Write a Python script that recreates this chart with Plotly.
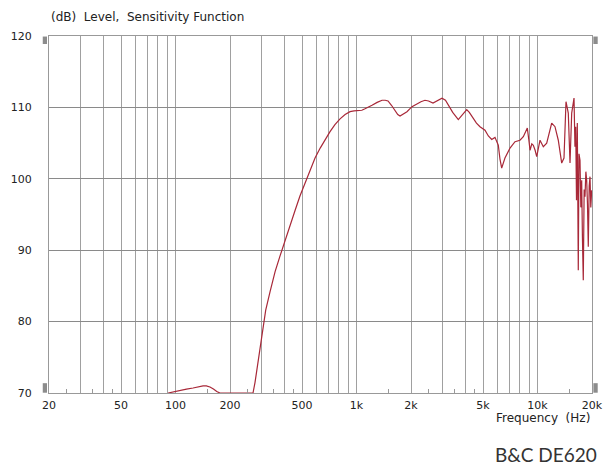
import plotly.graph_objects as go

# ---- data ----
freq_hz = [91, 100, 106, 115, 125, 135, 142, 148, 155, 162, 169, 176, 200, 230, 268,
           275, 281, 290, 300, 315, 333, 355, 378, 400, 429, 458, 487, 510, 533, 560,
           590, 630, 670, 714, 760, 811, 865, 921, 970, 1018, 1070, 1114, 1160, 1218,
           1300, 1384, 1440, 1493, 1560, 1632, 1690, 1739, 1800, 1900, 2025, 2159,
           2270, 2388, 2500, 2646, 2800, 2966, 3100, 3215, 3400, 3650, 3850, 4064,
           4200, 4418, 4600, 4810, 5128, 5350, 5585, 5821, 6072, 6200, 6340, 6609,
           7048, 7511, 8000, 8348, 8783, 8950, 9093, 9300, 9482, 9700, 9900, 10322,
           10766, 11240, 11976, 12490, 13026, 13602, 14006, 14368, 14792, 15120,
           15448, 15910, 16100, 16256, 16420, 16590, 16800, 16950, 17168, 17350,
           17540, 17700, 17900, 18100, 18292, 18500, 18692, 18880, 19076, 19300,
           19498, 19700, 19918]
level_db = [70.0, 70.25, 70.4, 70.55, 70.7, 70.9, 71.0, 71.0, 70.85, 70.55, 70.2, 70.0,
            70.0, 70.0, 70.0,
            71.5, 73.2, 75.8, 78.4, 81.6, 84.2, 87.0, 89.2, 91.0, 93.4, 95.6, 97.6,
            98.9, 100.0, 101.3, 102.9, 104.3, 105.5, 106.6, 107.6, 108.4, 109.0,
            109.4, 109.5, 109.5, 109.6, 109.8, 110.0, 110.3, 110.7, 111.0, 111.0,
            110.9, 110.3, 109.6, 109.0, 108.8, 109.0, 109.4, 110.1, 110.5, 110.8,
            111.0, 110.9, 110.6, 110.9, 111.3, 111.0, 110.3, 109.3, 108.3, 109.0,
            109.7, 109.3, 108.5, 107.8, 107.3, 106.8, 106.0, 105.5, 105.8, 104.7,
            102.8, 101.5, 102.9, 104.3, 105.2, 105.4, 105.9, 107.1, 105.5, 104.0,
            104.9, 104.7, 104.0, 103.1, 105.4, 104.5, 105.0, 107.8, 107.3, 105.4,
            102.2, 102.9, 110.8, 109.2, 102.2, 109.2, 111.3, 104.5, 107.3, 97.0,
            107.8, 87.2, 103.5, 102.6, 96.0, 99.8, 92.0, 85.8, 98.5, 97.5, 101.0,
            99.8, 96.5, 90.5, 99.0, 100.3, 96.0, 98.4]

grid_freqs = [20, 30, 40, 50, 60, 70, 80, 90,
              100, 200, 300, 400, 500, 600, 700, 800, 900,
              1000, 2000, 3000, 4000, 5000, 6000, 7000, 8000, 9000,
              10000, 20000]
grid_labels = {20: "20", 50: "50", 100: "100", 200: "200", 500: "500",
               1000: "1k", 2000: "2k", 5000: "5k", 10000: "10k", 20000: "20k"}
minor_freqs = [25, 35, 45, 150, 250, 350, 450, 1500, 2500, 3500, 4500, 15000]
y_ticks = [70, 80, 90, 100, 110, 120]

title_text = "(dB)  Level,  Sensitivity Function"
xlabel_text = "Frequency  (Hz)"
model_text = "B&C DE620"

fig = go.Figure()
fig.add_trace(go.Scatter(
    x=freq_hz, y=level_db, mode="lines",
    line=dict(color="#a82838", width=1.2),
    hoverinfo="skip", showlegend=False,
))

# the page body adds an 8px offset, so the figure is sized to fill the rest
font_main = "DejaVu Sans"
fig.update_layout(
    width=606, height=457,
    margin=dict(l=41, r=22, t=28, b=72, autoexpand=False),
    paper_bgcolor="white", plot_bgcolor="white",
    showlegend=False,
    font=dict(family=font_main, size=11, color="#222"),
)
fig.update_xaxes(
    type="log", range=[1.30103, 4.30103], automargin=False,
    tickmode="array", tickvals=grid_freqs,
    ticktext=[grid_labels.get(f, "") for f in grid_freqs],
    showgrid=True, gridcolor="#a0a0a0", gridwidth=1,
    showline=True, linecolor="#999999", linewidth=1, mirror=True,
    ticks="", ticklabelstandoff=2,
    tickfont=dict(family=font_main, size=11, color="#222"),
    minor=dict(tickmode="array", tickvals=minor_freqs, ticks="inside",
               ticklen=4, tickcolor="#999999", showgrid=False),
    zeroline=False, fixedrange=True,
)
fig.update_yaxes(
    range=[70, 120], tickmode="array", tickvals=y_ticks, automargin=False,
    showgrid=True, gridcolor="#8a8a8a", gridwidth=1,
    showline=True, linecolor="#999999", linewidth=1, mirror=True,
    ticks="", ticklabelstandoff=14,
    tickfont=dict(family=font_main, size=11, color="#222"),
    zeroline=False, fixedrange=True,
)

# small grey handle boxes at the corners
for x0, x1, y0, y1 in [(-0.0115, -0.0037, 0.9776, 0.9985),
                       (-0.0115, -0.0037, 0.0008, 0.0275),
                       (1.0025, 1.0105, 0.9776, 0.9985),
                       (1.0025, 1.0105, 0.0008, 0.0275)]:
    fig.add_shape(type="rect", xref="paper", yref="paper",
                  x0=x0, x1=x1, y0=y0, y1=y1,
                  fillcolor="#8c8c8c", line=dict(width=0))

fig.add_annotation(text=title_text, xref="paper", yref="paper",
                   x=0.0, y=1.0, xanchor="left", yanchor="bottom", yshift=10,
                   showarrow=False,
                   font=dict(family=font_main, size=12, color="#222"))
fig.add_annotation(text=xlabel_text, xref="paper", yref="paper",
                   x=1.0, y=0.0, xanchor="right", yanchor="top", yshift=-16,
                   showarrow=False,
                   font=dict(family=font_main, size=12, color="#222"))
fig.add_annotation(text=model_text, xref="paper", yref="paper",
                   x=1.013, y=0.0, xanchor="right", yanchor="top", yshift=-48,
                   showarrow=False,
                   font=dict(family="Lato", size=19, color="#333"))

fig.write_html("out.html")
